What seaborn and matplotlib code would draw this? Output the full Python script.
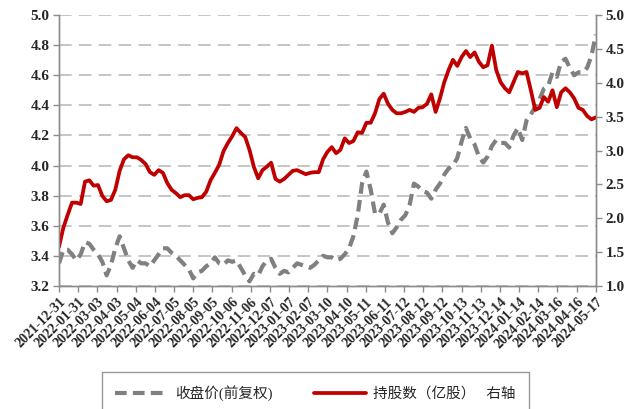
import pandas as pd
import matplotlib
matplotlib.use('Agg')
import matplotlib.pyplot as plt
import matplotlib.dates as mdates
import seaborn as sns

# weekly samples, 2021-12-31 .. 2024-05-17
dates = pd.date_range('2021-12-31', '2024-05-17', freq='7D')

close_price = [
    3.35, 3.44, 3.44, 3.41, 3.37, 3.41, 3.49, 3.48, 3.44, 3.41,
    3.36, 3.27, 3.34, 3.45, 3.53, 3.45, 3.37, 3.32, 3.37, 3.35,
    3.35, 3.33, 3.37, 3.41, 3.45, 3.45, 3.42, 3.40, 3.37, 3.34,
    3.31, 3.25, 3.29, 3.30, 3.33, 3.35, 3.39, 3.35, 3.34, 3.37,
    3.36, 3.37, 3.32, 3.27, 3.23, 3.28, 3.27, 3.33, 3.37, 3.38,
    3.32, 3.28, 3.30, 3.29, 3.32, 3.35, 3.34, 3.33, 3.32, 3.34,
    3.37, 3.40, 3.39, 3.39, 3.37, 3.38, 3.41, 3.45, 3.53, 3.67,
    3.88, 3.96, 3.84, 3.68, 3.68, 3.74, 3.62, 3.55, 3.59, 3.64,
    3.67, 3.74, 3.88, 3.86, 3.83, 3.82, 3.78, 3.84, 3.88, 3.94,
    3.98, 4.00, 4.05, 4.16, 4.25, 4.18, 4.14, 4.06, 4.02, 4.06,
    4.13, 4.17, 4.15, 4.15, 4.12, 4.20, 4.25, 4.17, 4.30, 4.34,
    4.39, 4.44, 4.51, 4.53, 4.62, 4.59, 4.69, 4.71, 4.65, 4.60,
    4.62, 4.62, 4.65, 4.73, 4.87,
]

shares = [
    1.58, 1.86, 2.05, 2.23, 2.23, 2.21, 2.54, 2.56, 2.48, 2.49,
    2.33, 2.25, 2.27, 2.42, 2.70, 2.87, 2.93, 2.90, 2.90, 2.86,
    2.80, 2.68, 2.64, 2.71, 2.67, 2.52, 2.42, 2.37, 2.31, 2.34,
    2.34, 2.28, 2.30, 2.31, 2.39, 2.56, 2.67, 2.79, 2.99, 3.11,
    3.21, 3.33, 3.26, 3.20, 3.01, 2.76, 2.59, 2.71, 2.76, 2.82,
    2.58, 2.54, 2.58, 2.64, 2.70, 2.71, 2.68, 2.65, 2.67, 2.68,
    2.68, 2.87, 2.98, 3.05, 2.96, 3.01, 3.18, 3.11, 3.14, 3.27,
    3.26, 3.41, 3.41, 3.55, 3.76, 3.84, 3.69, 3.60, 3.55, 3.55,
    3.57, 3.60, 3.57, 3.63, 3.64, 3.69, 3.83, 3.57, 3.77, 4.01,
    4.19, 4.34, 4.25, 4.38, 4.47, 4.38, 4.45, 4.31, 4.23, 4.26,
    4.55, 4.19, 4.01, 3.92, 3.86, 4.01, 4.16, 4.14, 4.16, 3.89,
    3.60, 3.63, 3.79, 3.72, 3.89, 3.64, 3.86, 3.92, 3.86, 3.77,
    3.63, 3.60, 3.51, 3.46, 3.49,
]

tick_dates = pd.date_range('2021-12-31', periods=29, freq='31D')
left_ticks = [3.2, 3.4, 3.6, 3.8, 4.0, 4.2, 4.4, 4.6, 4.8, 5.0]
right_ticks = [1.0, 1.5, 2.0, 2.5, 3.0, 3.5, 4.0, 4.5, 5.0]

label_close = '收盘价(前复权)'
label_shares = '持股数（亿股）   右轴'

df = pd.DataFrame({'date': dates, 'close': close_price, 'shares': shares})

sns.set_theme(style='white')
plt.rcParams['font.family'] = ['Liberation Serif', 'Noto Sans CJK SC']

fig = plt.figure(figsize=(6.3, 4.09), dpi=100)
ax = fig.add_axes([0.0937, 0.301, 0.852, 0.662])
ax2 = ax.twinx()

sns.lineplot(data=df, x='date', y='close', ax=ax, color='#808080', linewidth=3.0,
             label=label_close, legend=False)
ax.lines[0].set_dashes((2.8, 1.5))
sns.lineplot(data=df, x='date', y='shares', ax=ax2, color='#C00000', linewidth=2.7,
             label=label_shares, legend=False)

ax.set_ylim(3.2, 5.0)
ax.set_yticks(left_ticks)
ax.set_yticklabels([f'{v:.1f}' for v in left_ticks])
ax2.set_ylim(1.0, 5.0)
ax2.set_yticks(right_ticks)
ax2.set_yticklabels([f'{v:.1f}' for v in right_ticks])

ax.set_xlim(tick_dates[0], tick_dates[-1])
ax.set_xticks(tick_dates)
ax.xaxis.set_major_formatter(mdates.DateFormatter('%Y-%m-%d'))
plt.setp(ax.get_xticklabels(), rotation=45, ha='right', rotation_mode='anchor')

for a in (ax, ax2):
    a.set_xlabel('')
    a.set_ylabel('')
    for s in a.spines.values():
        s.set_color('#8c8c8c')
        s.set_linewidth(1.0)
    a.spines['top'].set_visible(False)
    a.tick_params(axis='both', length=4, width=1, color='#8c8c8c', pad=3)
    for t in a.get_yticklabels():
        t.set_fontweight('bold')
        t.set_fontsize(11)

ax.tick_params(axis='y', left=True, right=False)
ax2.tick_params(axis='y', right=True, left=False)
ax.tick_params(axis='x', bottom=True)
for t in ax.get_xticklabels():
    t.set_fontweight('bold')
    t.set_fontsize(10)

ax.yaxis.grid(True, color='#c0c0c0', linestyle=(0, (7, 4)), linewidth=1.3)
ax.set_axisbelow(True)

h1, l1 = ax.get_legend_handles_labels()
h2, l2 = ax2.get_legend_handles_labels()
leg = fig.legend(h1 + h2, l1 + l2, loc='upper center', bbox_to_anchor=(0.501, 0.091),
                 ncol=2, frameon=True, fancybox=False, edgecolor='#808080',
                 handlelength=3.6, columnspacing=2.8, borderaxespad=0,
                 borderpad=0.9, handletextpad=0.5,
                 prop={'family': ['Liberation Serif', 'Noto Sans CJK SC'], 'size': 10.5})
leg.get_frame().set_linewidth(1.0)

fig.savefig('out.png', dpi=100)
